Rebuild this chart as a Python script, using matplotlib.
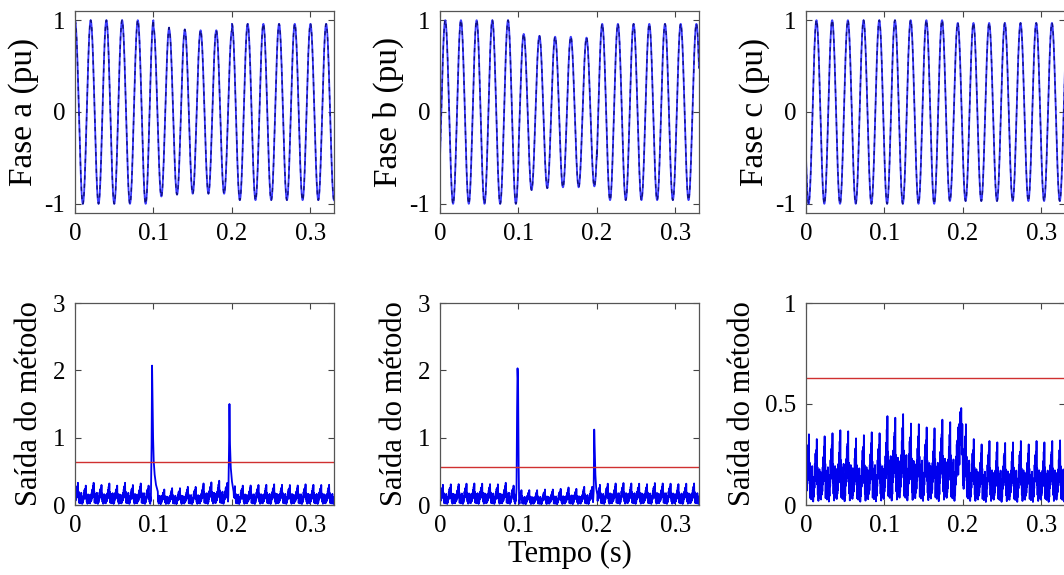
import numpy as np
import matplotlib
matplotlib.use("Agg")
import matplotlib.pyplot as plt

plt.rcParams['font.family'] = ['Liberation Serif', 'DejaVu Serif']
plt.rcParams['axes.unicode_minus'] = False

# signal settings
FREQ = 50.0
T_END = 0.33
HALF = 0.01

# peak amplitude of each cycle (0.02 s each)
amp_a = [1.0, 1.0, 1.0, 1.0, 1.0, 0.92, 0.90, 0.89, 0.89, 0.89,
         0.96, 0.96, 0.96, 0.96, 0.96, 0.96, 0.96]
amp_b = [1.0, 1.0, 1.0, 1.0, 1.0, 0.85, 0.83, 0.82, 0.82, 0.81,
         0.96, 0.96, 0.96, 0.96, 0.96, 0.96, 0.96]
amp_c = [1.0, 1.0, 1.0, 1.0, 1.0, 1.0, 1.0, 1.0, 1.0, 0.97,
         0.97, 0.97, 0.97, 0.97, 0.97, 0.97, 0.97]
phase_deg = [0, -120, 120]

# method output: tallest value in each half cycle
peaks_a = [0.33, 0.30, 0.33, 0.31, 0.32, 0.30, 0.33, 0.31, 0.32, 0.30,
           0.25, 0.24, 0.25, 0.26, 0.27, 0.28, 0.32, 0.35, 0.36, 0.34,
           0.28, 0.30, 0.29, 0.31, 0.30, 0.32, 0.30, 0.31, 0.29, 0.32, 0.30, 0.31, 0.30]
peaks_b = [0.30, 0.32, 0.31, 0.33, 0.32, 0.33, 0.31, 0.32, 0.33, 0.30,
           0.22, 0.23, 0.22, 0.24, 0.23, 0.25, 0.26, 0.25, 0.27, 0.28,
           0.30, 0.33, 0.32, 0.34, 0.32, 0.33, 0.31, 0.34, 0.32, 0.33, 0.31, 0.33, 0.32]
peaks_c = [0.35, 0.34, 0.34, 0.37, 0.37, 0.38, 0.33, 0.36, 0.36, 0.37,
           0.44, 0.45, 0.45, 0.42, 0.40, 0.40, 0.38, 0.44, 0.41, 0.40,
           0.40, 0.34, 0.30, 0.33, 0.31, 0.32, 0.31, 0.33, 0.30, 0.33, 0.31, 0.33, 0.32]

# shape of one half cycle, as a fraction of its peak
shape_even = [0.15, 0.45, 0.20, 0.55, 0.30, 0.70, 0.40, 0.85, 0.55, 1.00, 0.35, 0.60,
              0.10, 0.40, 0.20, 0.50, 0.08, 0.35, 0.25, 0.55, 0.12, 0.40, 0.05, 0.30]
shape_odd = [0.12, 0.40, 0.25, 0.60, 0.35, 0.75, 0.45, 0.80, 0.50, 0.96, 0.30, 0.55,
             0.15, 0.45, 0.06, 0.38, 0.20, 0.52, 0.10, 0.42, 0.22, 0.48, 0.08, 0.28]

# transients at the start and end of the sag
spike_a1_t = [0.0968, 0.0976, 0.0982, 0.0988, 0.0995, 0.1003, 0.1015, 0.1032, 0.1055]
spike_a1_v = [0.20, 0.90, 2.07, 1.60, 1.00, 0.65, 0.45, 0.30, 0.20]
spike_a2_t = [0.1955, 0.1962, 0.1968, 0.1975, 0.1985, 0.2000, 0.2020]
spike_a2_v = [0.25, 0.80, 1.50, 0.90, 0.55, 0.35, 0.20]
spike_b1_t = [0.0975, 0.0982, 0.0988, 0.0995, 0.1002, 0.1008, 0.1014, 0.1025]
spike_b1_v = [0.25, 1.40, 2.03, 1.80, 0.60, 0.05, 0.02, 0.15]
spike_b2_t = [0.1958, 0.1965, 0.1972, 0.1980, 0.1990, 0.2005]
spike_b2_v = [0.20, 1.12, 0.80, 0.45, 0.25, 0.15]
spike_c1_t = [0.1940, 0.1948, 0.1955, 0.1962, 0.1970, 0.1978, 0.1985, 0.1992, 0.2000]
spike_c1_v = [0.15, 0.40, 0.20, 0.46, 0.30, 0.48, 0.25, 0.40, 0.10]

thresholds = [0.64, 0.56, 0.63]
ylabels_top = ['Fase a (pu)', 'Fase b (pu)', 'Fase c (pu)']


def phase_wave(amps, phase):
    t = np.linspace(0, T_END, 3301)
    idx = np.minimum((t / (1 / FREQ)).astype(int), len(amps) - 1)
    return t, np.array(amps)[idx] * np.cos(2 * np.pi * FREQ * t + np.radians(phase))


def method_output(peaks, spikes):
    ts, vs = [], []
    for k, p in enumerate(peaks):
        shape = shape_even if k % 2 == 0 else shape_odd
        n = len(shape)
        ts.append(HALF * k + HALF * np.arange(n) / n)
        vs.append(p * np.array(shape))
    t = np.concatenate(ts)
    v = np.concatenate(vs)
    for st, sv in spikes:
        keep = (t < st[0]) | (t > st[-1])
        t = np.concatenate([t[keep], st])
        v = np.concatenate([v[keep], sv])
        order = np.argsort(t)
        t, v = t[order], v[order]
    keep = t <= T_END
    return t[keep], v[keep]


def style_axes(ax):
    ax.tick_params(direction='in', top=True, right=True, length=4,
                   labelsize=18, color='#444444', pad=7)
    for s in ax.spines.values():
        s.set_color('#555555')
        s.set_linewidth(0.9)
    ax.set_xlim(0, T_END)
    ax.set_xticks([0, 0.1, 0.2, 0.3])
    ax.set_xticklabels(['0', '0.1', '0.2', '0.3'])


fig = plt.figure(figsize=(10.64, 5.75), dpi=100)
W, H = 1064.0, 575.0
lefts = [75, 440, 806]
ax_w = 259

outputs = [
    method_output(peaks_a, [(spike_a1_t, spike_a1_v), (spike_a2_t, spike_a2_v)]),
    method_output(peaks_b, [(spike_b1_t, spike_b1_v), (spike_b2_t, spike_b2_v)]),
    method_output(peaks_c, [(spike_c1_t, spike_c1_v)]),
]
amps = [amp_a, amp_b, amp_c]

for i in range(3):
    # phase voltage
    ax = fig.add_axes([lefts[i] / W, (H - 213) / H, ax_w / W, 202 / H])
    t, y = phase_wave(amps[i], phase_deg[i])
    ax.plot(t, y, color='#3a3aff', lw=1.3)
    ax.plot(t, y, color='#101080', lw=1.0, dashes=(3, 3))
    ax.set_ylim(-1.1, 1.1)
    ax.set_yticks([-1, 0, 1])
    ax.set_yticklabels(['-1', '0', '1'])
    style_axes(ax)
    ax.set_ylabel(ylabels_top[i], fontsize=24, labelpad=4)

    # method output
    ax = fig.add_axes([lefts[i] / W, (H - 505) / H, ax_w / W, 202 / H])
    t, v = outputs[i]
    ax.plot(t, v, color='#0000ee', lw=1.3)
    ax.axhline(thresholds[i], color='#d03030', lw=1.0)
    if i < 2:
        ax.set_ylim(0, 3)
        ax.set_yticks([0, 1, 2, 3])
        ax.set_yticklabels(['0', '1', '2', '3'])
    else:
        ax.set_ylim(0, 1)
        ax.set_yticks([0, 0.5, 1])
        ax.set_yticklabels(['0', '0.5', '1'])
    style_axes(ax)
    ax.set_ylabel('Saída do método', fontsize=22, labelpad=6)
    if i == 1:
        ax.set_xlabel('Tempo (s)', fontsize=22, labelpad=2)

fig.savefig('out.png', dpi=100)
